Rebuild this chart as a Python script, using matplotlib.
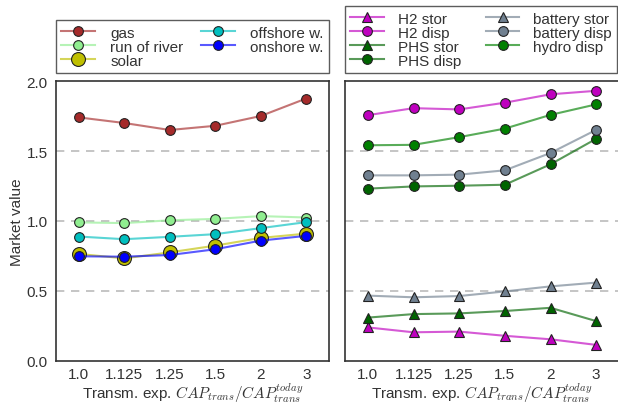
import matplotlib
matplotlib.use("Agg")
import matplotlib.pyplot as plt
from matplotlib.colors import to_rgba

plt.rcParams['font.family'] = ['Liberation Sans', 'DejaVu Sans']
plt.rcParams['mathtext.fontset'] = 'cm'

x_labels = ["1.0", "1.125", "1.25", "1.5", "2", "3"]

# left panel
gas = [1.74, 1.70, 1.65, 1.68, 1.75, 1.875]
run_of_river = [0.99, 0.985, 1.005, 1.015, 1.035, 1.025]
solar = [0.765, 0.733, 0.776, 0.824, 0.879, 0.910]
offshore = [0.889, 0.870, 0.887, 0.906, 0.949, 0.992]
onshore = [0.748, 0.745, 0.757, 0.798, 0.860, 0.894]

# right panel
h2_stor = [0.24, 0.205, 0.21, 0.18, 0.155, 0.115]
h2_disp = [1.756, 1.806, 1.797, 1.845, 1.905, 1.93]
phs_stor = [0.31, 0.335, 0.34, 0.357, 0.38, 0.285]
phs_disp = [1.231, 1.247, 1.252, 1.259, 1.405, 1.587]
battery_stor = [0.467, 0.455, 0.464, 0.497, 0.533, 0.56]
battery_disp = [1.326, 1.326, 1.331, 1.362, 1.486, 1.651]
hydro_disp = [1.541, 1.544, 1.599, 1.66, 1.758, 1.833]

fig = plt.figure(figsize=(6.18, 4.06), dpi=100)
W, H = 618, 406
axL = fig.add_axes([56 / W, (H - 362) / H, 273 / W, 280 / H])
axR = fig.add_axes([345 / W, (H - 362) / H, 274 / W, 280 / H])

xs = list(range(len(x_labels)))
LA = 0.65
FS = 11

def plot(ax, y, color, label, marker='o', ms=7):
    lc = to_rgba(color, LA)
    ax.plot(xs, y, '-', color=lc, lw=1.5, zorder=2, marker=marker, ms=ms,
            mfc=color, mec='#222222', mew=0.8, label=label)

plot(axL, gas, '#a52a2a', 'gas')
plot(axL, run_of_river, '#90ee90', 'run of river')
plot(axL, solar, '#bfbf00', 'solar', ms=10)
plot(axL, offshore, '#00bfbf', 'offshore w.')
plot(axL, onshore, '#0000ff', 'onshore w.')

plot(axR, h2_stor, '#bf00bf', 'H2 stor', marker='^', ms=7.5)
plot(axR, h2_disp, '#bf00bf', 'H2 disp')
plot(axR, phs_stor, '#006400', 'PHS stor', marker='^', ms=7.5)
plot(axR, phs_disp, '#006400', 'PHS disp')
plot(axR, battery_stor, '#708090', 'battery stor', marker='^', ms=7.5)
plot(axR, battery_disp, '#708090', 'battery disp')
plot(axR, hydro_disp, '#008000', 'hydro disp')

xlabel = r'Transm. exp. $CAP_{trans}/CAP_{trans}^{today}$'
for ax in (axL, axR):
    ax.set_xlim(-0.5, 5.5)
    ax.set_ylim(0, 2.0)
    ax.set_xticks(xs)
    ax.set_xticklabels(x_labels)
    ax.set_yticks([0.0, 0.5, 1.0, 1.5, 2.0])
    for yv in (0.5, 1.0, 1.5):
        ax.axhline(yv, color='#bbbbbb', ls=(0, (5, 4)), lw=1.2, zorder=1)
    for s in ax.spines.values():
        s.set_color('#333333')
        s.set_linewidth(1.2)
    ax.tick_params(axis='both', labelsize=FS, colors='#333333', length=0, pad=6)
    ax.tick_params(axis='x', pad=4)
    ax.set_xlabel(xlabel, fontsize=FS, color='#333333', labelpad=0)

axL.set_ylabel('Market value', fontsize=FS, color='#333333', labelpad=2)
axR.set_yticklabels([])

common = dict(ncol=2, loc='lower left', mode='expand', borderaxespad=0,
              fontsize=FS, fancybox=False, labelspacing=0.0, handlelength=2.2,
              columnspacing=1.0, borderpad=0.35)
legL = axL.legend(bbox_to_anchor=(0, 1.029, 1, 0.2), handletextpad=1.0, **common)
legR = axR.legend(bbox_to_anchor=(0.0, 1.029, 0.993, 0.2), handletextpad=0.9, **common)
for leg in (legL, legR):
    leg.get_frame().set_edgecolor('#333333')
    leg.get_frame().set_linewidth(1.0)
    for t in leg.get_texts():
        t.set_color('#333333')

fig.savefig('out.png', dpi=100)
